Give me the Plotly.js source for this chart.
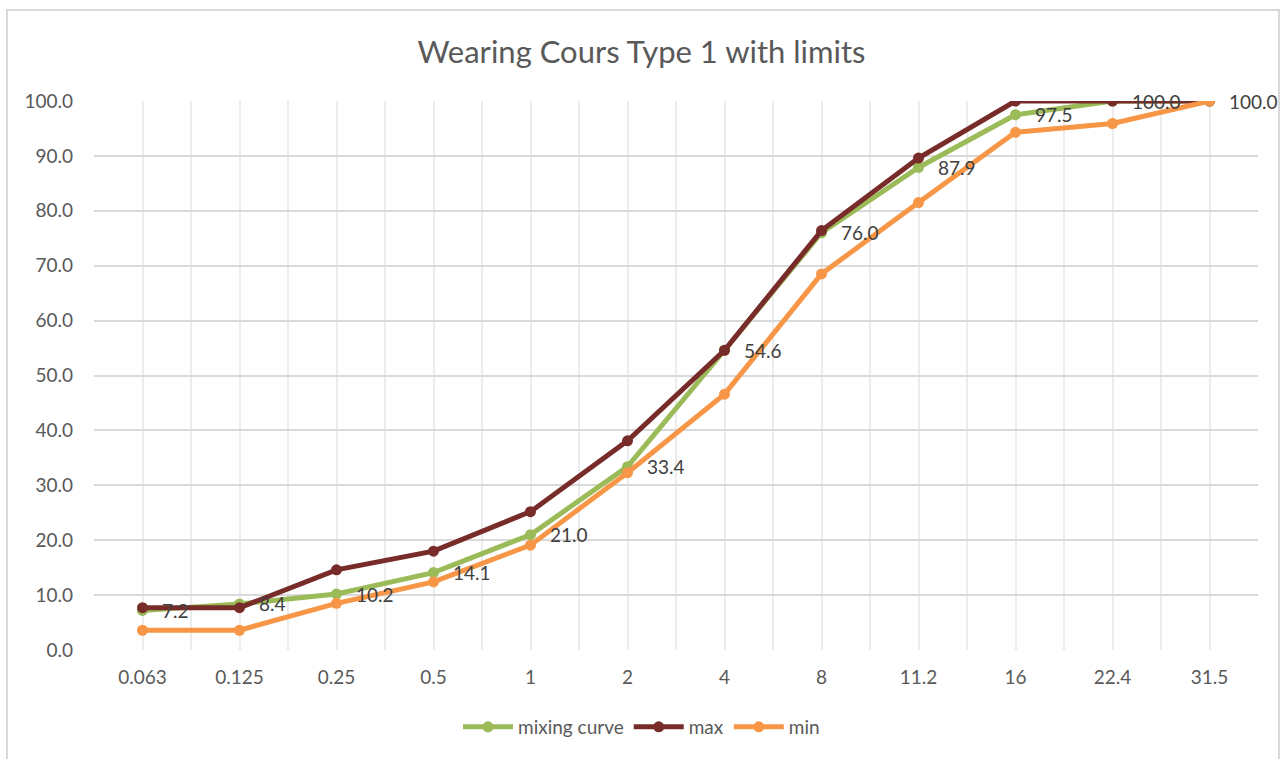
<!DOCTYPE html>
<html>
<head>
<meta charset="utf-8">
<script src="https://cdn.plot.ly/plotly-3.0.1.min.js"></script>
<style>
  html, body { margin: 0; padding: 0; background: #ffffff; }
  #chart { position: absolute; left: 0; top: 0; width: 1283px; height: 759px; }
  #frame { position: absolute; left: 6px; top: 9px; width: 1274px; height: 760px;
           border: 2px solid #d9d9d9; pointer-events: none; box-sizing: border-box; }
</style>
</head>
<body>
<div id="chart"></div>
<div id="frame"></div>
<script>
// Sieve sizes (mm) and percentage passing
const sieves = ['0.063', '0.125', '0.25', '0.5', '1', '2', '4', '8', '11.2', '16', '22.4', '31.5'];
const mixingCurve = [7.2, 8.4, 10.2, 14.1, 21.0, 33.4, 54.6, 76.0, 87.9, 97.5, 100.0, 100.0];
const maxLimit = [7.7, 7.7, 14.6, 18.0, 25.2, 38.1, 54.6, 76.4, 89.6, 100.0, 100.0, 100.0];
const minLimit = [3.6, 3.6, 8.5, 12.4, 19.1, 32.3, 46.6, 68.5, 81.5, 94.3, 95.9, 100.0];
const yTicks = [0, 10, 20, 30, 40, 50, 60, 70, 80, 90, 100];

const FONT = 'Lato, "Open Sans", sans-serif';
const xPos = sieves.map((s, i) => i);

// Grid at every category centre and every category boundary; only centres get a label
const gridVals = [];
const gridText = [];
sieves.forEach((s, i) => {
  gridVals.push(i - 0.5); gridText.push('');
  gridVals.push(i); gridText.push(s);
});
gridVals.push(sieves.length - 0.5); gridText.push('');

function series(name, values, color) {
  return {
    type: 'scatter',
    mode: 'lines+markers',
    name: name,
    x: xPos,
    y: values,
    line: { color: color, width: 5 },
    marker: { color: color, size: 11 },
    hovertemplate: '%{customdata}: %{y:.1f}<extra>' + name + '</extra>',
    customdata: sieves
  };
}

const traces = [
  series('mixing curve', mixingCurve, '#9bbb59'),
  series('max', maxLimit, '#772c2a'),
  series('min', minLimit, '#f79646')
];

// Value labels for the mixing curve, placed to the right of each point
const labels = mixingCurve.map((v, i) => ({
  x: xPos[i],
  y: v,
  xref: 'x',
  yref: 'y',
  text: v.toFixed(1),
  showarrow: false,
  xanchor: 'left',
  yanchor: 'middle',
  xshift: 17,
  font: { family: FONT, size: 19, color: '#404040' }
}));

const layout = {
  width: 1283,
  height: 759,
  margin: { l: 94, r: 25, t: 101, b: 109 },
  paper_bgcolor: 'rgba(0,0,0,0)',
  plot_bgcolor: '#ffffff',
  font: { family: FONT, size: 19, color: '#595959' },
  title: {
    text: 'Wearing Cours Type 1 with limits',
    font: { family: FONT, size: 31, color: '#595959' },
    x: 0.5, xref: 'container', xanchor: 'center',
    y: 1 - 52 / 759, yref: 'container', yanchor: 'middle'
  },
  xaxis: {
    range: [-0.5, sieves.length - 0.5],
    tickmode: 'array',
    tickvals: gridVals,
    ticktext: gridText,
    ticks: '',
    showgrid: true,
    gridcolor: '#ececec',
    gridwidth: 1.5,
    zeroline: false,
    showline: false,
    ticklabelstandoff: 14,
    tickfont: { family: FONT, size: 19, color: '#595959' },
    fixedrange: true
  },
  yaxis: {
    range: [0, 100],
    tickmode: 'array',
    tickvals: yTicks,
    ticktext: yTicks.map(v => v.toFixed(1)),
    ticks: '',
    showgrid: true,
    gridcolor: '#d9d9d9',
    gridwidth: 1.5,
    zeroline: false,
    showline: false,
    ticklabelstandoff: 20,
    tickfont: { family: FONT, size: 19, color: '#595959' },
    fixedrange: true
  },
  showlegend: true,
  legend: {
    orientation: 'h',
    x: 0.5, xref: 'container', xanchor: 'center',
    y: 1 - 727 / 759, yref: 'container', yanchor: 'middle',
    font: { family: FONT, size: 19, color: '#595959' },
    itemwidth: 50,
    traceorder: 'normal'
  },
  annotations: labels
};

Plotly.newPlot('chart', traces, layout, { displayModeBar: false, responsive: false });
</script>
</body>
</html>
